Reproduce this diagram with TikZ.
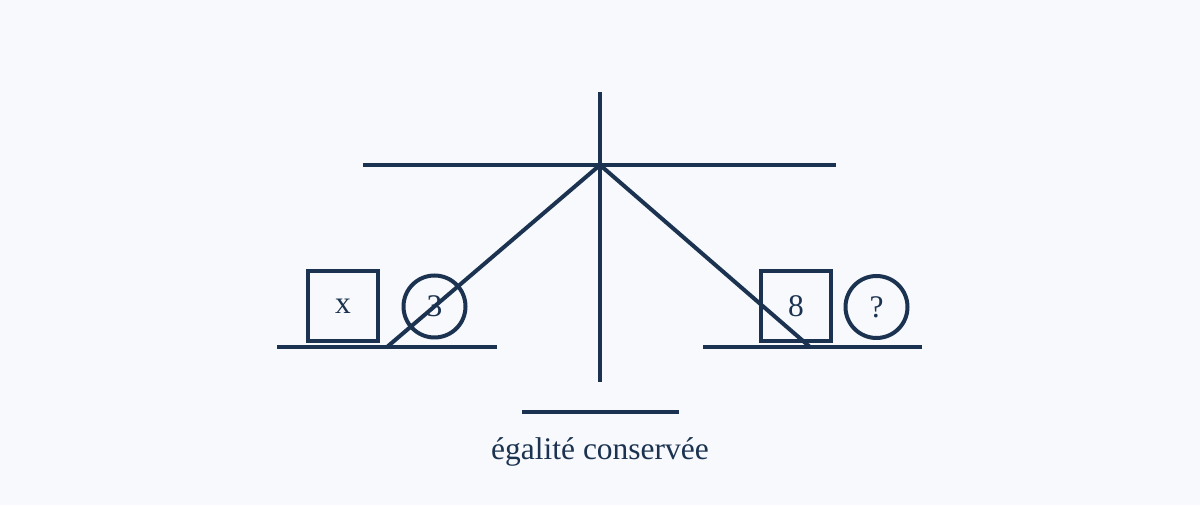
\documentclass[tikz,border=0pt]{standalone}
\usepackage{fontspec}
\setmainfont{Liberation Serif}
\definecolor{ink}{HTML}{1B3350}
\definecolor{paper}{HTML}{F7F9FC}
\tikzset{
  bar/.style={draw=ink, line width=3pt},
  weight/.style={draw=ink, line width=3pt, minimum size=52.5pt, inner sep=0pt, text=ink},
  token/.style={circle, draw=ink, line width=3pt, minimum size=46.5pt, inner sep=0pt, text=ink},
}
\begin{document}
\begin{tikzpicture}[x=0.75pt,y=-0.75pt,font=\fontsize{23.6}{28}\selectfont]
\fill[paper] (0,0) rectangle (1200,505);
\useasboundingbox (0,0) rectangle (1200,505);

\coordinate (top) at (600,92);
\coordinate (pivot) at (600,165);
\coordinate (foot) at (600,382);
\coordinate (bl) at (363,165);
\coordinate (br) at (836,165);
\coordinate (pl1) at (277,347);
\coordinate (pl2) at (497,347);
\coordinate (pr1) at (703,347);
\coordinate (pr2) at (922,347);
\coordinate (hl) at (387,347);
\coordinate (hr) at (810,347);
\coordinate (b1) at (522,412);
\coordinate (b2) at (679,412);

\node[weight] (x) at (343,306) {x};
\node[token] (three) at (434.5,306.5) {3};
\node[weight] (eight) at (796,306) {8};
\node[token] (unknown) at (876.5,307) {?};
\node[text=ink] (cap) at (600,452) {égalité conservée};

\draw[bar] (top)--(foot);
\draw[bar] (bl)--(br);
\draw[bar] (pl1)--(pl2);
\draw[bar] (pr1)--(pr2);
\draw[bar] (pivot)--(hl);
\draw[bar] (pivot)--(hr);
\draw[bar] (b1)--(b2);
\end{tikzpicture}
\end{document}
